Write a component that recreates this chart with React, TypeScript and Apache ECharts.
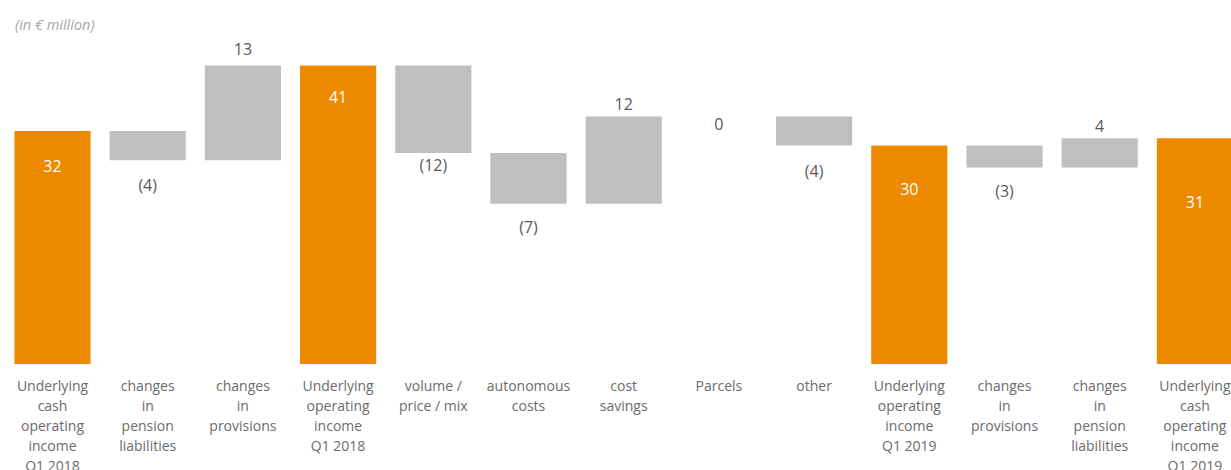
import React, { useEffect, useRef } from "react";
import * as echarts from "echarts";

const categories = [
  "Underlying\ncash\noperating\nincome\nQ1 2018",
  "changes\nin\npension\nliabilities",
  "changes\nin\nprovisions",
  "Underlying\noperating\nincome\nQ1 2018",
  "volume /\nprice / mix",
  "autonomous\ncosts",
  "cost\nsavings",
  "Parcels",
  "other",
  "Underlying\noperating\nincome\nQ1 2019",
  "changes\nin\nprovisions",
  "changes\nin\npension\nliabilities",
  "Underlying\ncash\noperating\nincome\nQ1 2019",
];
const values = [32, -4, 13, 41, -12, -7, 12, 0, -4, 30, -3, 4, 31];
const isTotal = [true, false, false, true, false, false, false, false, false, true, false, false, true];
// label centre distance (px) from the bar edge the label sits at
const labelGap = [36, 26, 18, 32, 13, 24, 13, 9, 26, 44, 25, 13, 65];

const ORANGE = "#EE8A00";
const GREY = "#BFBFBF";

export default function App() {
  const ref = useRef<HTMLDivElement>(null);
  useEffect(() => {
    if (!ref.current) return;
    const chart = echarts.init(ref.current, null, { renderer: "svg" });
    const base: number[] = [];
    const visible: any[] = [];
    let running = 0;
    values.forEach((v, i) => {
      let b = 0;
      let h = 0;
      if (isTotal[i]) {
        b = 0;
        h = v;
        running = v;
      } else if (v >= 0) {
        b = running;
        h = v;
        running += v;
      } else {
        running += v;
        b = running;
        h = -v;
      }
      base.push(b);
      const txt = isTotal[i] ? String(v) : v < 0 ? `(${Math.abs(v)})` : String(v);
      let label: any;
      if (isTotal[i]) {
        label = { show: true, position: "insideTop", distance: labelGap[i] - 9, color: "#ffffff", formatter: txt };
      } else if (v <= 0) {
        label = { show: true, position: "bottom", distance: Math.max(labelGap[i] - 9, 0), color: "#595959", formatter: txt };
      } else {
        label = { show: true, position: "top", distance: labelGap[i] - 9, color: "#595959", formatter: txt };
      }
      visible.push({
        value: h,
        itemStyle: { color: isTotal[i] ? ORANGE : GREY },
        label,
      });
    });

    chart.setOption({
      animation: false,
      title: {
        text: "(in € million)",
        left: 10,
        top: 12,
        textStyle: {
          fontFamily: "Open Sans",
          fontStyle: "italic",
          fontWeight: "normal",
          fontSize: 14.5,
          color: "#A6A6A6",
        },
      },
      grid: {
        left: 4.9,
        top: 0,
        width: 1237.6,
        height: 364,
        containLabel: false,
        outerBoundsMode: "none",
      },
      xAxis: {
        type: "category",
        data: categories,
        axisLine: { show: false },
        axisTick: { show: false },
        axisLabel: {
          interval: 0,
          margin: 11,
          fontFamily: "Open Sans",
          fontSize: 14,
          lineHeight: 20,
          color: "#6B6B6B",
          verticalAlign: "top",
        },
      },
      yAxis: {
        type: "value",
        min: 0,
        max: 50,
        show: false,
        splitLine: { show: false },
      },
      series: [
        {
          type: "bar",
          stack: "w",
          data: base,
          itemStyle: { color: "transparent" },
          silent: true,
          barWidth: "80%",
        },
        {
          type: "bar",
          stack: "w",
          data: visible,
          barWidth: "80%",
          label: { fontFamily: "Open Sans", fontSize: 16 },
        },
      ],
    });
    return () => chart.dispose();
  }, []);
  return (
    <div
      ref={ref}
      style={{ position: "absolute", left: 0, top: 0, width: 1231, height: 470 }}
    />
  );
}
